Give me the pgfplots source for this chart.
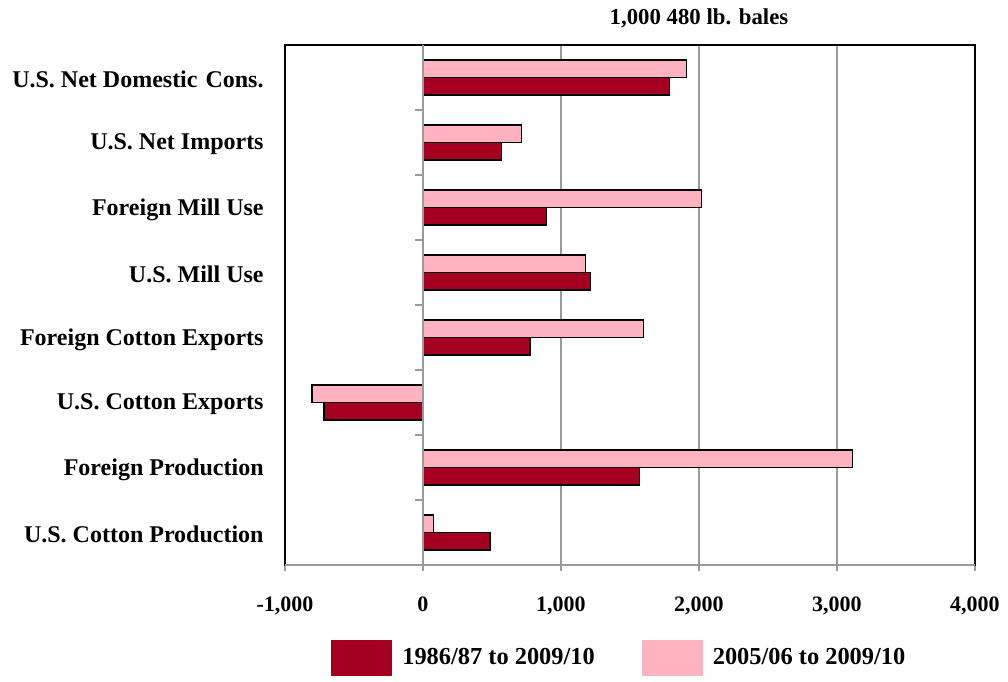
\documentclass[border=0pt]{standalone}
\usepackage{pgfplots}
\pgfplotsset{compat=1.18}
\usepackage{fontspec}
\setmainfont{Liberation Serif}
\definecolor{dred}{HTML}{A50021}
\definecolor{lpink}{HTML}{FFB3C0}
\definecolor{gridgray}{HTML}{9A9A9A}
\begin{document}
\begin{tikzpicture}
\begin{axis}[
  at={(142.5pt,58pt)}, anchor=south west,
  scale only axis, width=345pt, height=260pt,
  xbar, bar width=8.75pt,
  clip=false,
  xmin=-1000, xmax=4000, ymin=-0.5, ymax=7.5,
  xtick={-1000,0,1000,2000,3000,4000},
  xticklabels={{-1,000},{0},{1,000},{2,000},{3,000},{4,000}},
  ytick={0,...,7},
  yticklabels={U.S. Cotton Production, Foreign Production, U.S. Cotton Exports, Foreign Cotton Exports, U.S. Mill Use, Foreign Mill Use, U.S. Net Imports, {U.S. Net Domestic\,\,Cons.}},
  xtick pos=lower, ytick pos=left,
  xtick align=outside, major tick length=3pt,
  x tick style={gridgray, line width=0.8pt},
  y tick style={draw=none},
  xmajorgrids, grid style={gridgray, line width=0.6pt},
  axis line style={black, line width=1pt},
  xticklabel style={font=\bfseries\fontsize{11}{13}\selectfont, anchor=north, inner sep=0pt, yshift=-12.5pt},
  yticklabel style={font=\bfseries\fontsize{12}{14}\selectfont, anchor=east, inner sep=0pt, xshift=-7.5pt, yshift=-1pt},
  legend style={at={(0.486,-0.179)}, anchor=center, draw=none, fill=none,
    legend columns=2, font=\bfseries\fontsize{12.2}{14}\selectfont,
    /tikz/every odd column/.append style={column sep=3pt},
    /tikz/every even column/.append style={column sep=21.5pt}},
  legend image code/.code={\fill[#1,draw=none] (0pt,-9pt) rectangle (30.5pt,9pt);},
  legend cell align=left,
]
\addplot[fill=dred, draw=black, line width=0.6pt, bar shift=-4.375pt]
  coordinates {(485,0) (1571,1) (-717,2) (775,3) (1212,4) (896,5) (571,6) (1785,7)};
\addlegendentry{1986/87 to 2009/10}
\addplot[fill=lpink, draw=black, line width=0.6pt, bar shift=4.375pt]
  coordinates {(78,0) (3110,1) (-805,2) (1595,3) (1178,4) (2020,5) (716,6) (1910,7)};
\addlegendentry{2005/06 to 2009/10}
\draw[gridgray, line width=1pt] (axis cs:0,-0.5) -- (axis cs:0,7.5);
\draw[gridgray, line width=0.6pt] (axis cs:-58,0.5) -- (axis cs:0,0.5);
\draw[gridgray, line width=0.6pt] (axis cs:-58,1.5) -- (axis cs:0,1.5);
\draw[gridgray, line width=0.6pt] (axis cs:-58,2.5) -- (axis cs:0,2.5);
\draw[gridgray, line width=0.6pt] (axis cs:-58,3.5) -- (axis cs:0,3.5);
\draw[gridgray, line width=0.6pt] (axis cs:-58,4.5) -- (axis cs:0,4.5);
\draw[gridgray, line width=0.6pt] (axis cs:-58,5.5) -- (axis cs:0,5.5);
\draw[gridgray, line width=0.6pt] (axis cs:-58,6.5) -- (axis cs:0,6.5);
\draw[gridgray, line width=1pt] (rel axis cs:0,0) -- (rel axis cs:1,0);
\node[font=\bfseries\fontsize{11.4}{13}\selectfont] at (axis cs:2000,7.5) [yshift=13.5pt] {1,000 480 lb. bales};
\end{axis}
\pgfresetboundingbox
\useasboundingbox (0,0) rectangle (504pt,340.5pt);
\end{tikzpicture}
\end{document}
